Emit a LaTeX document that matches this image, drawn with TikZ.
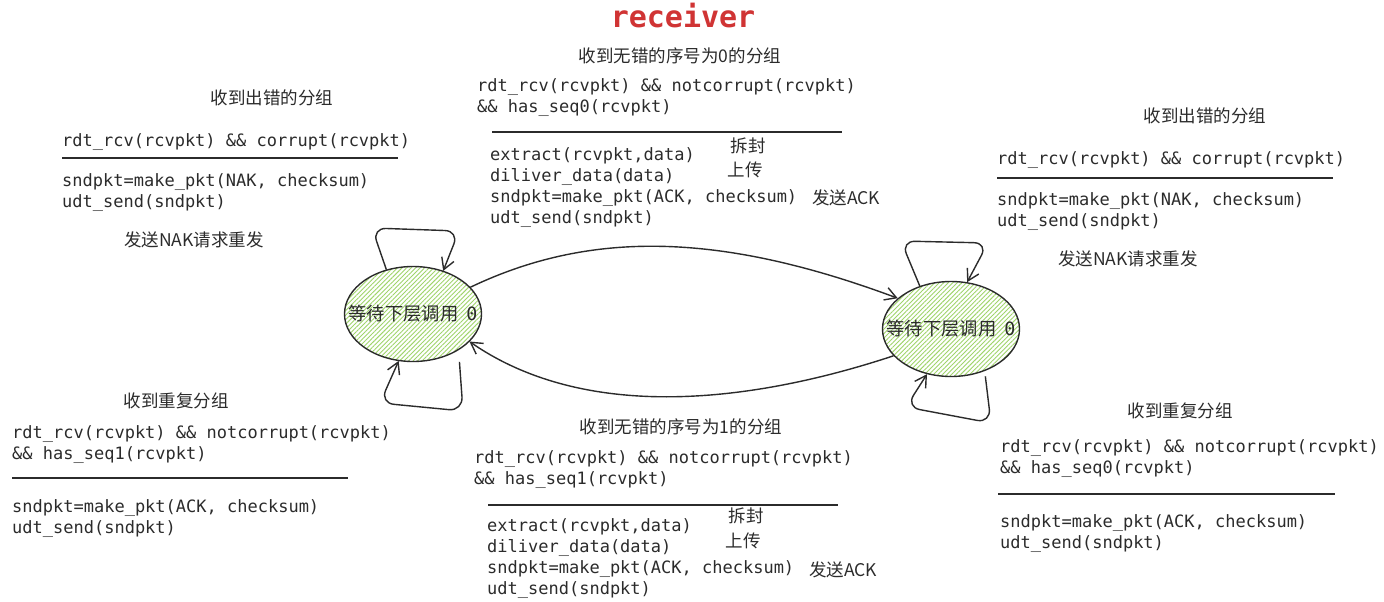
\documentclass[tikz,border=0pt]{standalone}
\usepackage{fontspec}
\setmonofont{DejaVu Sans Mono}
\newfontfamily\cjk{Noto Sans CJK SC}
\usetikzlibrary{arrows.meta,patterns.meta,shapes.geometric}
\definecolor{ink}{HTML}{2B2B2B}
\definecolor{hatch}{HTML}{9FD46A}
\definecolor{titlered}{HTML}{D03434}
\begin{document}
\begin{tikzpicture}[x=1pt,y=-1pt,
  code/.style={font=\ttfamily\fontsize{17}{20.7}\selectfont, anchor=base west, inner sep=0pt, align=left, text=ink},
  note/.style={font=\cjk\fontsize{17.5}{20}\selectfont, inner sep=0pt, text=ink},
  state/.style={ellipse, draw=ink, line width=1.4pt, minimum width=137pt, minimum height=95pt,
    inner xsep=-17pt, inner ysep=0pt,
    pattern={Lines[angle=45,distance=3.2pt,line width=0.9pt]}, pattern color=hatch,
    font=\cjk\fontsize{18.3}{20}\selectfont, text=ink},
  edge/.style={draw=ink, line width=1.4pt, -{Straight Barb[angle=60:13pt, line width=1.4pt]}},
  loopedge/.style={edge, rounded corners=14pt},
  rule/.style={draw=ink, line width=1.3pt}]
\useasboundingbox (0,0) rectangle (1384,602);

% title
\node[font=\ttfamily\bfseries\fontsize{30}{32}\selectfont, text=titlered, inner sep=0pt] (title) at (683,16) {receiver};

% states
\node[state] (L) at (413,314) {等待下层调用\hspace{8pt}\texttt{0}};
\node[state] (R) at (951,329) {等待下层调用\hspace{8pt}\texttt{0}};

% transitions between states
\draw[edge] (L.25) .. controls (590,230) and (720,232) .. (R.150);
\draw[edge] (R.205) .. controls (760,400) and (590,425) .. (L.334);

% self loops
\draw[loopedge] (L.121) -- (372,228) -- (459,231) -- (L.55);
\draw[loopedge] ([shift={(8,8)}]L.314) -- (463,411) -- (380,403) -- (L.253);
\draw[loopedge] (R.126) -- (901,241) -- (988,243) -- (R.71);
\draw[loopedge] ([shift={(4,4)}]R.305) -- (991,423) -- (906,407) -- (R.242);

% top-left block
\node[note] (tlT) at (272,98) {收到出错的分组};
\node[code] (tlC) at (62,146) {rdt\_rcv(rcvpkt) \&\& corrupt(rcvpkt)};
\draw[rule] (62,158) -- (398,158);
\node[code] (tlA) at (62,207) {sndpkt=make\_pkt(NAK, checksum)\\udt\_send(sndpkt)};
\node[note] (tlN) at (194,240) {发送NAK请求重发};

% top-middle block
\node[note] (tmT) at (680,56) {收到无错的序号为0的分组};
\node[code] (tmC) at (477,112) {rdt\_rcv(rcvpkt) \&\& notcorrupt(rcvpkt)\\\&\& has\_seq0(rcvpkt)};
\draw[rule] (492,132) -- (842,132);
\node[code] (tmA) at (490,223) {extract(rcvpkt,data)\\diliver\_data(data)\\sndpkt=make\_pkt(ACK, checksum)\\udt\_send(sndpkt)};
\node[note] (tmN1) at (748,146) {拆封};
\node[note] (tmN2) at (745,170) {上传};
\node[note] (tmN3) at (846,198) {发送ACK};

% top-right block
\node[note] (trT) at (1205,116) {收到出错的分组};
\node[code] (trC) at (997,164) {rdt\_rcv(rcvpkt) \&\& corrupt(rcvpkt)};
\draw[rule] (997,178) -- (1333,178);
\node[code] (trA) at (997,226) {sndpkt=make\_pkt(NAK, checksum)\\udt\_send(sndpkt)};
\node[note] (trN) at (1128,259) {发送NAK请求重发};

% bottom-left block
\node[note] (blT) at (176,401) {收到重复分组};
\node[code] (blC) at (12,459) {rdt\_rcv(rcvpkt) \&\& notcorrupt(rcvpkt)\\\&\& has\_seq1(rcvpkt)};
\draw[rule] (12,478) -- (348,478);
\node[code] (blA) at (12,533) {sndpkt=make\_pkt(ACK, checksum)\\udt\_send(sndpkt)};

% bottom-middle block
\node[note] (bmT) at (681,427) {收到无错的序号为1的分组};
\node[code] (bmC) at (474,484) {rdt\_rcv(rcvpkt) \&\& notcorrupt(rcvpkt)\\\&\& has\_seq1(rcvpkt)};
\draw[rule] (488,505) -- (838,505);
\node[code] (bmA) at (487,594) {extract(rcvpkt,data)\\diliver\_data(data)\\sndpkt=make\_pkt(ACK, checksum)\\udt\_send(sndpkt)};
\node[note] (bmN1) at (746,516) {拆封};
\node[note] (bmN2) at (743,541) {上传};
\node[note] (bmN3) at (843,570) {发送ACK};

% bottom-right block
\node[note] (brT) at (1180,411) {收到重复分组};
\node[code] (brC) at (1000,473) {rdt\_rcv(rcvpkt) \&\& notcorrupt(rcvpkt)\\\&\& has\_seq0(rcvpkt)};
\draw[rule] (998,494) -- (1335,494);
\node[code] (brA) at (1000,548) {sndpkt=make\_pkt(ACK, checksum)\\udt\_send(sndpkt)};
\end{tikzpicture}
\end{document}
